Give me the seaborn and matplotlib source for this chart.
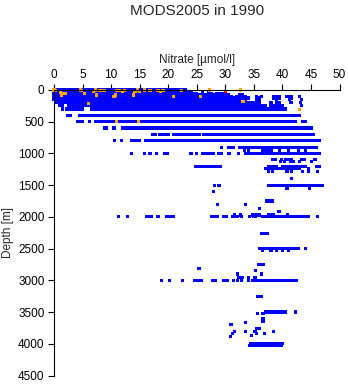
import matplotlib
matplotlib.use("Agg")
import matplotlib.pyplot as plt
import seaborn as sns
import pandas as pd

# ---------------- data ----------------
# Blue (accepted) nitrate observations, grouped by sampling depth [m]
nit_0m = [0, 0.5, 1, 1.5, 2, 2.5, 3, 3.5, 4, 4.5, 5, 5.5, 6, 6.5, 7, 7.5, 8, 8.5, 9, 9.5, 10, 10.5, 11, 11.5,
          12, 12.5, 13, 13.5, 14, 14.5, 15, 15.5, 16, 16.5, 17, 17.5, 18, 18.5, 19, 19.5, 20, 20.5, 21, 21.5, 22, 22.5, 23]
nit_10m = [0, 0.5, 1, 1.5, 2, 2.5, 3, 3.5, 4, 4.5, 5, 5.5, 6, 6.5, 7, 7.5, 8, 8.5, 9, 9.5, 10, 10.5, 11, 11.5,
           12, 12.5, 13, 13.5, 14, 14.5, 15, 15.5, 16, 16.5, 17, 17.5, 18, 18.5, 19, 19.5, 20, 20.5, 21, 21.5, 22, 22.5, 23]
nit_20m = [0, 0.5, 1, 1.5, 2, 2.5, 3, 3.5, 4, 4.5, 5, 5.5, 6, 6.5, 7, 7.5, 8, 8.5, 9, 9.5, 10, 10.5, 11, 11.5,
           12, 12.5, 13, 13.5, 14, 14.5, 15, 15.5, 16, 16.5, 17, 17.5, 18, 18.5, 19, 19.5, 20, 20.5, 21, 21.5, 22, 22.5, 23, 23.5]
nit_30m = [0, 0.5, 1, 1.5, 2, 2.5, 3, 3.5, 4, 4.5, 5, 5.5, 6, 6.5, 7, 7.5, 8, 8.5, 9, 9.5, 10, 10.5, 11, 11.5,
           12, 12.5, 13, 13.5, 14, 14.5, 15, 15.5, 16, 16.5, 17, 17.5, 18, 18.5, 19, 19.5, 20, 20.5, 21, 21.5, 22, 22.5,
           23, 23.5, 24, 26, 27]
nit_50m = [0, 0.5, 1, 1.5, 2, 2.5, 3, 3.5, 4, 4.5, 5, 5.5, 6, 6.5, 7, 7.5, 8, 8.5, 9, 9.5, 10, 10.5, 11, 11.5,
           12, 12.5, 13, 13.5, 14, 14.5, 15, 15.5, 16, 16.5, 17, 17.5, 18, 18.5, 19, 19.5, 20, 20.5, 21, 21.5, 22, 22.5,
           23, 23.5, 24, 24.5, 25, 27.5, 28.5, 29, 29.5, 30]
nit_75m = [0, 0.5, 1, 1.5, 2, 2.5, 3, 3.5, 4, 4.5, 5, 5.5, 6, 6.5, 7, 7.5, 8, 8.5, 9, 9.5, 10, 10.5, 11, 11.5,
           12, 12.5, 13, 13.5, 14, 14.5, 15, 15.5, 16, 16.5, 17, 17.5, 18, 18.5, 19, 19.5, 20, 20.5, 21, 21.5, 22, 22.5,
           23, 23.5, 24, 24.5, 25, 25.5, 26, 26.5, 27, 27.5, 28, 28.5, 29, 29.5, 30, 30.5, 32.5, 33]
nit_100m = [0, 0.5, 1, 1.5, 2, 2.5, 3, 3.5, 4, 4.5, 5, 5.5, 6, 6.5, 7, 7.5, 8, 8.5, 9, 9.5, 10, 10.5, 11, 11.5,
            12, 12.5, 13, 13.5, 14, 14.5, 15, 15.5, 16, 16.5, 17, 17.5, 18, 18.5, 19, 19.5, 20, 20.5, 21, 21.5, 22, 22.5,
            23, 23.5, 24, 24.5, 25, 25.5, 26, 26.5, 27, 27.5, 28, 28.5, 29, 29.5, 30, 30.5, 31,
            32, 32.5, 33, 33.5, 35.5, 36.3, 38.5, 39, 39.5, 40.8, 41.5, 43]
nit_125m = [0, 0.5, 1, 1.5, 2, 2.5, 3, 3.5, 4, 4.5, 5, 5.5, 6, 6.5, 7, 7.5, 8, 8.5, 9, 9.5, 10, 10.5, 11, 11.5,
            12, 12.5, 13, 13.5, 14, 14.5, 15, 15.5, 16, 16.5, 17, 17.5, 18, 18.5, 19, 19.5, 20, 20.5, 21, 21.5, 22, 22.5,
            23, 23.5, 24, 24.5, 25, 25.5, 26, 26.5, 27, 27.5, 28, 28.5, 29, 29.5, 30, 30.5, 31, 31.5,
            32, 32.5, 33, 33.5, 34, 36, 38.5, 39, 39.5, 41.5]
nit_150m = [0, 0.5, 1, 1.5, 2, 2.5, 3, 3.5, 4, 4.5, 5, 5.5, 6, 6.5, 7, 7.5, 8, 8.5, 9, 9.5, 10, 10.5, 11, 11.5,
            12, 12.5, 13, 13.5, 14, 14.5, 15, 15.5, 16, 16.5, 17, 17.5, 18, 18.5, 19, 19.5, 20, 20.5, 21, 21.5, 22, 22.5,
            23, 23.5, 24, 24.5, 25, 25.5, 26, 26.5, 27, 27.5, 28, 28.5, 29, 29.5, 30, 30.5, 31, 31.5, 32, 32.5, 33, 33.5,
            35.5, 36, 39, 41.3, 43.3]
nit_200m = [0.5, 1, 1.5, 2, 2.5, 3, 3.5, 4, 4.5, 5, 5.5, 6, 6.5, 7, 7.5, 8, 8.5, 9, 9.5, 10, 10.5, 11, 11.5,
            12, 12.5, 13, 13.5, 14, 14.5, 15, 15.5, 16, 16.5, 17, 17.5, 18, 18.5, 19, 19.5, 20, 20.5, 21, 21.5, 22, 22.5,
            23, 23.5, 24, 24.5, 25, 25.5, 26, 26.5, 27, 27.5, 28, 28.5, 29, 29.5, 30, 30.5, 31, 31.5, 32, 32.5, 33, 33.5,
            34, 34.5, 35, 35.5, 36, 38, 39, 39.5, 41.5, 43.2]
nit_250m = [1, 1.5, 2.5, 3, 3.5, 4, 4.5, 5, 5.5, 6, 6.5, 7, 7.5, 8, 8.5, 9, 9.5, 10, 10.5, 11, 11.5,
            12, 12.5, 13, 13.5, 14, 14.5, 15, 15.5, 16, 16.5, 17, 17.5, 18, 18.5, 19, 19.5, 20, 20.5, 21, 21.5, 22, 22.5,
            23, 23.5, 24, 24.5, 25, 25.5, 26, 26.5, 27, 27.5, 28, 28.5, 29, 29.5, 30, 30.5, 31, 31.5, 32, 32.5, 33, 33.5,
            34, 34.5, 35, 35.5, 36, 36.5, 37, 38, 38.5, 39, 39.5, 40, 43.3]
nit_300m = [1.5, 2.2, 2.8, 3.5, 4, 4.5, 5, 6.5, 7, 7.5, 8, 8.5, 9, 9.5, 10, 10.5, 11, 11.5,
            12, 12.5, 13, 13.5, 14, 14.5, 15, 15.5, 16, 16.5, 17, 17.5, 18, 18.5, 19, 19.5, 20, 20.5, 21, 21.5, 22, 22.5,
            23, 23.5, 24, 24.5, 25, 25.5, 26, 26.5, 27, 27.5, 28, 28.5, 29, 29.5, 30, 30.5, 31, 31.5, 32, 32.5, 33, 33.5,
            34, 34.5, 35, 35.5, 36, 36.5, 37, 37.5, 38, 38.5, 39, 39.5, 40, 40.5]
nit_400m = [2.4, 2.9, 4.5, 5, 5.5, 6, 6.5, 7, 7.5, 8, 8.5, 9, 9.5, 10, 10.5, 11, 11.5,
            12, 12.5, 13, 13.5, 14, 14.5, 15, 15.5, 16, 16.5, 17, 17.5, 18, 18.5, 19, 19.5, 20, 20.5, 21, 21.5, 22, 22.5,
            23, 23.5, 24, 24.5, 25, 25.5, 26, 26.5, 27, 27.5, 28, 28.5, 29, 29.5, 30, 30.5, 31, 31.5, 32, 32.5, 33, 33.5,
            34, 34.5, 35, 35.5, 36, 36.5, 37, 37.5, 38, 38.5, 39, 39.5, 40, 40.5, 41, 41.5, 42, 42.5, 43]
nit_500m = [4.2, 4.9, 6.2, 7.2, 7.8, 8.3, 8.8, 9.3, 9.8, 10.3, 10.8, 11.3, 11.8,
            12.3, 12.8, 13.3, 13.8, 14.3, 14.8, 15.3, 15.8, 16.3, 16.8, 17.3, 17.8, 18.3, 18.8, 19.3, 19.8, 20.3, 20.8,
            21.3, 21.8, 22.3, 22.8, 23.3, 23.8, 24.3, 24.8, 25.3, 25.8, 26.3, 26.8, 27.3, 27.8, 28.3, 28.8, 29.3, 29.8,
            30.3, 30.8, 31.3, 31.8, 32.3, 32.8, 33.3, 33.8, 34.3, 34.8, 35.3, 35.8, 36.3, 36.8, 37.3, 37.8, 38.3, 38.8,
            39.3, 39.8, 40.3, 40.8, 41.3, 41.8, 42.2, 43.5, 44]
nit_600m = [8.8, 9.2, 10.5, 12, 12.5, 13, 13.5, 14, 14.5, 15, 15.5, 16, 16.5, 17, 17.5, 18, 18.5, 19, 19.5, 20, 20.5,
            21, 21.5, 22, 22.5, 23, 23.5, 24, 24.5, 25, 25.5, 26, 26.5, 27, 27.5, 28, 28.5, 29, 29.5, 30, 30.5, 31, 31.5,
            32, 32.5, 33, 33.5, 34, 34.5, 35, 35.5, 36, 36.5, 37, 37.5, 38, 38.5, 39, 39.5, 40, 40.5, 41, 41.5, 42, 42.5,
            43, 43.5, 44, 44.5, 45]
nit_700m = [17.2, 17.8, 18.5, 19, 19.5, 20, 21, 21.5, 22, 22.5, 23, 23.5, 24, 24.5, 25, 25.5, 26.2, 26.7, 27.2, 27.7,
            28.2, 28.7, 29.2, 29.7, 30.2, 30.7, 31.2, 31.7, 32.2, 32.7, 33.2, 33.7, 34.2, 34.7, 35.2, 35.7, 36.2, 36.7,
            37.2, 37.7, 38.2, 38.7, 39.2, 39.7, 40.2, 40.7, 41.2, 41.7, 42.2, 42.7, 43.2, 43.7, 44.2, 44.7, 45.2, 45.5]
nit_800m = [10.6, 11.8, 13.5, 14, 14.5, 15, 16, 16.5, 17, 17.5, 18, 18.5, 19, 19.5, 20, 20.5, 21, 21.5, 22, 22.5,
            23, 23.5, 24, 24.5, 25, 25.5, 26, 26.5, 27, 27.5, 28, 28.5, 29, 29.5, 30, 30.5, 31, 31.5, 32, 32.5, 33, 33.5,
            34, 34.5, 35, 35.5, 36, 36.5, 37, 37.5, 38, 38.5, 39, 39.5, 40, 40.5, 41, 41.5, 42, 42.5, 43, 43.5, 44, 44.5,
            45, 45.5, 46, 46.5]
nit_900m = [29.3, 30.5, 31, 31.5, 32.5, 33, 33.5, 34, 34.5, 35, 35.5, 36, 36.5, 37, 37.5, 38, 38.5, 39, 39.5, 40,
            40.5, 41, 41.5, 42, 42.5, 43, 43.5, 44, 44.5, 45, 45.5, 46]
nit_950m = [33.4, 34, 36.6, 37, 37.5, 38, 39.5, 41, 42.8, 44]
nit_1000m = [13.5, 15.8, 16.8, 17.9, 19.4, 19.8, 24, 25, 26, 26.5, 27, 27.5, 28, 28.8, 29.3, 30.5, 30.8, 32.3,
             33.5, 34, 34.5, 35, 35.5, 36, 36.5, 37, 37.5, 38, 38.5, 39, 39.5, 40, 40.5, 41, 41.5, 42, 42.5, 43, 43.5,
             44, 44.5, 45, 45.5, 46, 46.5]
nit_1100m = [38.3, 38.8, 39.8, 40.5, 41, 41.5, 43.3, 43.9, 45.7]
nit_1130m = [39.7, 40.3, 41.4, 42, 43, 45.1]
nit_1200m = [24.8, 25.2, 25.6, 26, 26.4, 26.8, 27.2, 27.6, 28, 28.4, 28.8, 29.2,
             37.5, 38, 38.5, 39, 40, 40.5, 41, 41.5, 42, 42.5, 43, 43.5, 44, 46, 46.5]
nit_1240m = [37, 37.5, 38, 38.5, 39, 39.5, 40, 40.5, 41, 41.5, 42, 42.5, 43, 44.5]
nit_1280m = [37.6, 38.2, 40.8, 41.6, 43.5, 44.5, 46.2]
nit_1390m = [41.6]
nit_1500m = [28.1, 28.9, 37.5, 38, 38.5, 39, 39.5, 40, 40.5, 41, 41.5, 42, 42.5, 43, 43.5, 44, 44.5, 45, 45.5,
             46, 46.5, 47]
nit_1550m = [40.8, 44.8]
nit_1600m = [27.9]
nit_1750m = [37.2, 37.7, 38.2]
nit_1810m = [28.6, 33.5]
nit_1870m = [36]
nit_1920m = [39.4]
nit_1970m = [31.6, 32.7, 34.8, 35.3, 35.9, 37.5, 38, 38.4, 40.9]
nit_2000m = [11.3, 12.9, 16.2, 16.6, 17, 18.2, 19.7, 20.1, 20.5, 20.9, 27.6, 28, 28.3, 28.6, 29.7, 30.2, 31.3,
             31.7, 32.2, 32.8, 34.3, 34.9, 35.3, 36.5, 37, 37.5, 38, 38.5, 39, 39.5, 40, 40.5, 41, 41.5, 42, 42.5,
             43, 43.5, 44, 44.5, 46.2]
nit_2260m = [36.4, 36.8, 37.3]
nit_2500m = [36, 36.5, 37, 37.5, 38, 38.5, 39, 39.5, 40, 40.5, 41, 41.5, 42, 42.5, 42.8, 44.1]
nit_2530m = [36.5, 38, 39, 40, 41]
nit_2745m = [35.9, 36.3, 36.7]
nit_2810m = [25.4]
nit_2850m = [35.3]
nit_2900m = [32.1, 36.3]
nit_2950m = [32.4, 33, 34, 35.2]
nit_3000m = [18.8, 20.3, 22.5, 24.6, 25, 25.5, 25.8, 27.8, 28.3, 29.7, 30, 30.3, 31.4, 32.1, 32.8, 34, 34.8,
             35.1, 35.4, 36, 36.5, 37, 37.5, 38, 38.5, 39, 39.5, 40, 40.5, 41, 41.5, 42, 42.4]
nit_3250m = [35.7, 36, 36.3]
nit_3500m = [37, 37.5, 38, 38.5, 39, 39.5, 40, 40.5, 42.3]
nit_3520m = [35.6, 36.6]
nit_3600m = [36.6]
nit_3640m = [36.6]
nit_3660m = [33.6]
nit_3690m = [31]
nit_3760m = [35.4, 35.7, 36]
nit_3810m = [31.6, 33.6, 35.2, 38.5]
nit_3840m = [31.3, 35.4, 36.9]
nit_3865m = [34.6]
nit_3890m = [30.9]
nit_4000m = [34.5, 35, 35.5, 36, 36.5, 37, 37.5, 38, 38.5, 39, 39.5, 40]
nit_4030m = [34.3, 34.8, 35.3, 35.8, 36.3, 36.8, 37.3, 37.8, 38.3, 38.8, 39.3, 39.8]

blue_levels = [0, 10, 20, 30, 50, 75, 100, 125, 150, 200, 250, 300, 400, 500, 600, 700, 800, 900, 950,
               1000, 1100, 1130, 1200, 1240, 1280, 1390, 1500, 1550, 1600, 1750, 1810, 1870, 1920, 1970,
               2000, 2260, 2500, 2530, 2745, 2810, 2850, 2900, 2950, 3000, 3250, 3500, 3520, 3600, 3640,
               3660, 3690, 3760, 3810, 3840, 3865, 3890, 4000, 4030]
blue_values = [nit_0m, nit_10m, nit_20m, nit_30m, nit_50m, nit_75m, nit_100m, nit_125m, nit_150m, nit_200m,
               nit_250m, nit_300m, nit_400m, nit_500m, nit_600m, nit_700m, nit_800m, nit_900m, nit_950m,
               nit_1000m, nit_1100m, nit_1130m, nit_1200m, nit_1240m, nit_1280m, nit_1390m, nit_1500m,
               nit_1550m, nit_1600m, nit_1750m, nit_1810m, nit_1870m, nit_1920m, nit_1970m, nit_2000m,
               nit_2260m, nit_2500m, nit_2530m, nit_2745m, nit_2810m, nit_2850m, nit_2900m, nit_2950m,
               nit_3000m, nit_3250m, nit_3500m, nit_3520m, nit_3600m, nit_3640m, nit_3660m, nit_3690m,
               nit_3760m, nit_3810m, nit_3840m, nit_3865m, nit_3890m, nit_4000m, nit_4030m]

# Orange (flagged) observations
orange_nitrate = [0.0, 0.2, 1.2, 1.6, 2.0, 1.3, 4.7, 4.8, 5.4, 6.0, 6.9, 7.2, 7.5, 7.9, 8.3, 8.9, 10.5, 10.7,
                  11.0, 11.5, 12.0, 12.4, 13.9, 14.2, 14.6, 15.0, 15.8, 16.8, 18.2, 18.7, 19.1, 20.9, 22.4,
                  25.6, 27.3, 32.6, 33.1, 43.0, 11.0, 14.8]
orange_depth = [0, 10, 40, 50, 60, 90, 0, 10, 52, 210, 26, 0, 79, 10, 10, 10, 100, 79,
                10, 10, 20, 10, 79, 20, 0, 30, 0, 10, 10, 20, 10, 100, 10,
                105, 0, 0, 185, 305, 500, 500]

# Red (rejected) observation
red_nitrate = [30.1]
red_depth = [25]

flag_colors = {"good": "#0000ff", "suspect": "#ffa500", "bad": "#ff0000"}

# ---------------- build table ----------------
records = []
for depth, vals in zip(blue_levels, blue_values):
    for v in vals:
        records.append((v, depth, "good"))
for n, d in zip(orange_nitrate, orange_depth):
    records.append((n, d, "suspect"))
for n, d in zip(red_nitrate, red_depth):
    records.append((n, d, "bad"))
df = pd.DataFrame(records, columns=["nitrate", "depth", "flag"])

# ---------------- plot ----------------
sns.set_style("white")
plt.rcParams["font.family"] = ["Liberation Sans", "DejaVu Sans"]

W, H = 348, 384
fig = plt.figure(figsize=(W / 100, H / 100), dpi=100)
x0, x1, y0, y1 = 54, 339.5, 90, 375.5
ax = fig.add_axes([x0 / W, 1 - y1 / H, (x1 - x0) / W, (y1 - y0) / H])

sns.scatterplot(data=df, x="nitrate", y="depth", hue="flag", palette=flag_colors,
                marker="s", s=5.2, linewidth=0, edgecolor="none", legend=False, ax=ax, clip_on=False)

ax.set_xlim(0, 50)
ax.set_ylim(4500, 0)
ax.set_xticks(range(0, 51, 5))
ax.set_yticks(range(0, 4501, 500))
ax.xaxis.tick_top()
ax.xaxis.set_label_position("top")

for side in ["right", "bottom"]:
    ax.spines[side].set_visible(False)
for side in ["top", "left"]:
    ax.spines[side].set_color("black")
    ax.spines[side].set_linewidth(0.8)

ax.tick_params(axis="both", direction="out", length=4.3, width=0.8, colors="black",
               labelsize=8.5, pad=2.5)
ax.tick_params(axis="x", top=True, bottom=False)
ax.tick_params(axis="y", left=True)

ax.set_xlabel("Nitrate [µmol/l]", fontsize=8.5, labelpad=4)
ax.set_ylabel("Depth [m]", fontsize=8.5)
ax.yaxis.set_label_coords((14 - x0) / (x1 - x0), 0.5)
ax.grid(False)

fig.text((x0 + x1) / 2 / W, 1 - 11 / H, "MODS2005 in 1990", ha="center", va="center", fontsize=11)

fig.savefig("out.png", dpi=100, facecolor="white")
